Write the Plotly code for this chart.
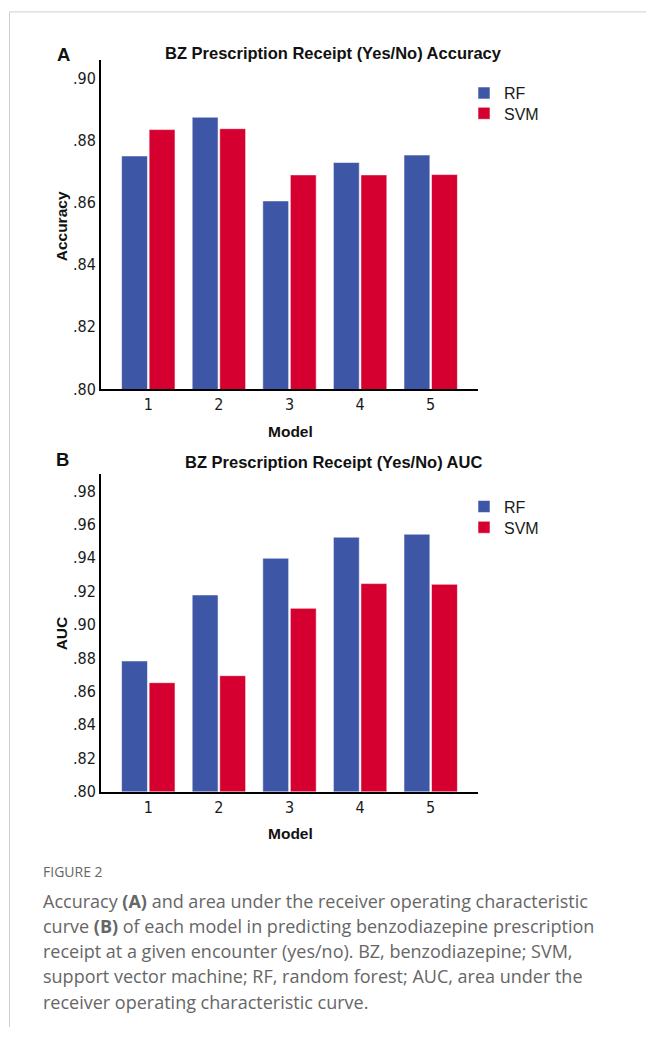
import plotly.graph_objects as go

W, H = 646, 1037

models = [1, 2, 3, 4, 5]
model_labels = ["1", "2", "3", "4", "5"]
acc_rf = [0.8751, 0.8876, 0.8606, 0.8730, 0.8754]
acc_svm = [0.8836, 0.8839, 0.8690, 0.8690, 0.8691]
auc_rf = [0.8782, 0.9177, 0.9397, 0.9523, 0.9541]
auc_svm = [0.8652, 0.8694, 0.9097, 0.9245, 0.9241]
acc_ticks = [0.80, 0.82, 0.84, 0.86, 0.88, 0.90]
acc_ticktext = [".80", ".82", ".84", ".86", ".88", ".90"]
auc_ticks = [0.80, 0.82, 0.84, 0.86, 0.88, 0.90, 0.92, 0.94, 0.96, 0.98]
auc_ticktext = [".80", ".82", ".84", ".86", ".88", ".90", ".92", ".94", ".96", ".98"]

BLUE = "#3E56A6"
RED = "#D5002F"
FONT = "Liberation Sans"
NARROW = "Liberation Sans Narrow, DejaVu Sans Condensed, Liberation Sans"


def px(x):
    return x / W


def py(y):
    return 1 - y / H


fig = go.Figure()
edge = dict(color="rgba(255,255,255,0.55)", width=1)
fig.add_trace(go.Bar(x=models, y=acc_rf, name="RF", marker=dict(color=BLUE, line=edge),
                     xaxis="x", yaxis="y", legend="legend"))
fig.add_trace(go.Bar(x=models, y=acc_svm, name="SVM", marker=dict(color=RED, line=edge),
                     xaxis="x", yaxis="y", legend="legend2"))
fig.add_trace(go.Bar(x=models, y=auc_rf, name="RF", marker=dict(color=BLUE, line=edge),
                     xaxis="x2", yaxis="y2", legend="legend3"))
fig.add_trace(go.Bar(x=models, y=auc_svm, name="SVM", marker=dict(color=RED, line=edge),
                     xaxis="x2", yaxis="y2", legend="legend4"))

xdom = [px(101), px(478)]
axis_common = dict(showline=True, linecolor="black", linewidth=2, showgrid=False,
                   zeroline=False, ticks="", tickfont=dict(family=NARROW, size=16, color="#1a1a1a"))

xa = dict(axis_common, domain=xdom, range=[0.33, 5.67], tickvals=models, ticktext=model_labels,
          fixedrange=True)


def leg(ytop):
    return dict(x=px(464), y=py(ytop), xanchor="left", yanchor="middle",
                font=dict(family=FONT, size=16, color="#1a1a1a"), bgcolor="rgba(0,0,0,0)",
                itemwidth=30, tracegroupgap=0)


fig.update_layout(
    width=W, height=H,
    margin=dict(l=0, r=0, t=0, b=0),
    paper_bgcolor="white", plot_bgcolor="white",
    barmode="group", bargap=0.22, bargroupgap=0.06,
    showlegend=True,
    hovermode=False,
    xaxis=dict(xa, anchor="y"),
    yaxis=dict(axis_common, domain=[py(392.7), py(60.7)], range=[0.80, 0.906],
               tickvals=acc_ticks, ticktext=acc_ticktext, anchor="x"),
    xaxis2=dict(xa, anchor="y2"),
    yaxis2=dict(axis_common, domain=[py(799.3), py(478.3)], range=[0.80, 0.9903],
                tickvals=auc_ticks, ticktext=auc_ticktext, anchor="x2"),
    legend=leg(94),
    legend2=leg(114.5),
    legend3=leg(511.5),
    legend4=leg(532.5),
)

ann = []


def text(x, y, s, size, bold=False, color="#111", family=FONT, xanchor="center", angle=0, yanchor="middle"):
    ann.append(dict(x=px(x), y=py(y), xref="paper", yref="paper", text=(f"<b>{s}</b>" if bold else s),
                    showarrow=False, xanchor=xanchor, yanchor=yanchor, textangle=angle,
                    font=dict(family=family, size=size, color=color)))


text(333, 54, "BZ Prescription Receipt (Yes/No) Accuracy", 16.5, bold=True)
text(63, 55, "A", 18.5, bold=True)
text(61.5, 229, "Accuracy", 15.5, bold=True, angle=-90)
text(290, 436, "Model", 15.5, bold=True)

text(333, 466, "BZ Prescription Receipt (Yes/No) AUC", 16.5, bold=True)
text(62, 464, "B", 18.5, bold=True)
text(61.5, 640, "AUC", 15.5, bold=True, angle=-90)
text(290, 842, "Model", 15.5, bold=True)

CAP = "Open Sans"
text(41, 880, "FIGURE 2", 14, color="#666", family=CAP, xanchor="left")
cap_lines = [
    "Accuracy <b>(A)</b> and area under the receiver operating characteristic",
    "curve <b>(B)</b> of each model in predicting benzodiazepine prescription",
    "receipt at a given encounter (yes/no). BZ, benzodiazepine; SVM,",
    "support vector machine; RF, random forest; AUC, area under the",
    "receiver operating characteristic curve.",
]
for i, line in enumerate(cap_lines):
    text(41, 909.5 + i * 25.5, line, 18, color="#666", family=CAP, xanchor="left")

fig.update_layout(annotations=ann)

fig.update_layout(shapes=[
    dict(type="line", xref="paper", yref="paper", x0=px(9.5), x1=1, y0=py(12), y1=py(12),
         line=dict(color="#cfcfcf", width=1)),
    dict(type="line", xref="paper", yref="paper", x0=px(9.5), x1=px(9.5), y0=py(12), y1=0,
         line=dict(color="#cfcfcf", width=1)),
])

fig.write_html("out.html", config={"displayModeBar": False, "staticPlot": True},
               post_script="document.body.style.margin='0';document.body.style.overflow='hidden';")
